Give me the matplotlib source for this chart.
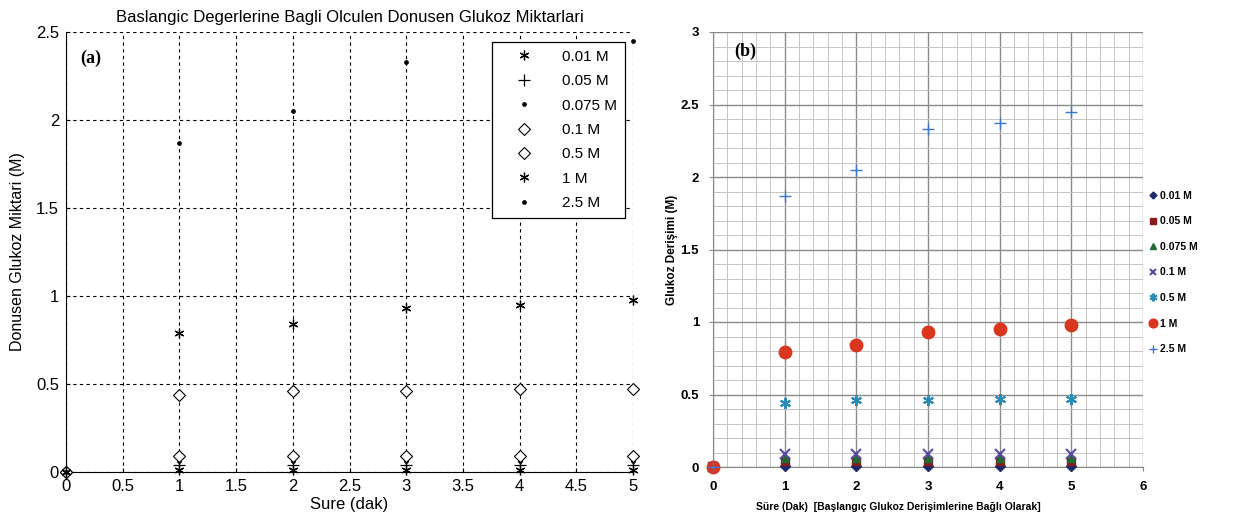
import matplotlib
matplotlib.use("Agg")
import matplotlib.pyplot as plt
import numpy as np
from matplotlib.ticker import MultipleLocator, FormatStrFormatter

# time (dak)
sure = [0, 1, 2, 3, 4, 5]

labels = ['0.01 M', '0.05 M', '0.075 M', '0.1 M', '0.5 M', '1 M', '2.5 M']
g001 = [0, 0.009, 0.009, 0.009, 0.009, 0.009]
g005 = [0, 0.04, 0.04, 0.04, 0.04, 0.04]
g0075 = [0, 0.06, 0.06, 0.06, 0.06, 0.06]
g01 = [0, 0.09, 0.09, 0.09, 0.09, 0.09]
g05 = [0, 0.44, 0.46, 0.46, 0.47, 0.47]
g1 = [0, 0.79, 0.84, 0.93, 0.95, 0.98]
g25 = [0, 1.87, 2.05, 2.33, 2.37, 2.45]
series = [g001, g005, g0075, g01, g05, g1, g25]

plt.rcParams['font.family'] = ['Liberation Sans', 'DejaVu Sans']

fig = plt.figure(figsize=(12.38, 5.24), dpi=100)

# ---------------- panel (a) ----------------
axa = fig.add_axes([66/1238, 1-472/524, 567/1238, 440/524])
ast = (6, 2, 0)
mk_a = [ast, '+', '.', 'D', 'D', ast, '.']
ms_a = [7, 8, 5, 6, 6, 7, 5]
for y, m, s, lab in zip(series, mk_a, ms_a, labels):
    if m == 'D':
        axa.plot(sure, y, linestyle='none', marker=m, ms=s, mfc='white',
                 mec='black', mew=0.8, label=lab, zorder=3, clip_on=False)
    else:
        axa.plot(sure, y, linestyle='none', marker=m, ms=s, color='black',
                 mew=0.9, label=lab, zorder=3, clip_on=False)
axa.set_xlim(0, 5)
axa.set_ylim(0, 2.5)
axa.xaxis.set_major_locator(MultipleLocator(0.5))
axa.yaxis.set_major_locator(MultipleLocator(0.5))
axa.xaxis.set_major_formatter(FormatStrFormatter('%g'))
axa.yaxis.set_major_formatter(FormatStrFormatter('%g'))
axa.grid(True, color='black', linestyle=(0, (3, 3)), linewidth=0.8)
axa.spines['top'].set_visible(False)
axa.spines['right'].set_visible(False)
axa.tick_params(direction='in', length=3, labelsize=12, pad=5)
axa.set_title('Baslangic Degerlerine Bagli Olculen Donusen Glukoz Miktarlari',
              fontsize=12, pad=7)
axa.set_xlabel('Sure (dak)', fontsize=12, labelpad=2)
axa.set_ylabel('Donusen Glukoz Miktari (M)', fontsize=11.5, labelpad=8)
axa.text(0.025, 0.94, '(a)', transform=axa.transAxes, fontsize=13,
         fontweight='bold', family='Liberation Serif', va='center')
lega = axa.legend(loc='upper right', bbox_to_anchor=(0.986, 0.977),
                  fontsize=11, frameon=True, fancybox=False, edgecolor='black',
                  framealpha=1, labelspacing=0.68, handlelength=3.2,
                  handletextpad=0.9, borderpad=0.5, borderaxespad=0)
lega.get_frame().set_linewidth(0.9)
lega.set_zorder(5)

# ---------------- panel (b) ----------------
axb = fig.add_axes([713/1238, 1-467/524, 430/1238, 435/524])
mk_b = ['D', 's', '^', 'x', (6, 2, 0), 'o', '+']
col_b = ['#1c2a6b', '#8a1c1c', '#1f6b32', '#5b4aa0', '#2b8db5', '#d8361d', '#3b78d4']
ms_b = [5, 6, 6, 7, 8, 9, 8]
for y, m, c, s, lab in zip(series, mk_b, col_b, ms_b, labels):
    axb.plot(sure, y, linestyle='none', marker=m, ms=s, color=c,
             mew=1.5 if m in ('x', (6, 2, 0)) else 1.0, label=lab, zorder=3,
             clip_on=False)
axb.set_xlim(0, 6)
axb.set_ylim(0, 3)
axb.xaxis.set_major_locator(MultipleLocator(1))
axb.xaxis.set_minor_locator(MultipleLocator(0.2))
axb.yaxis.set_major_locator(MultipleLocator(0.5))
axb.yaxis.set_minor_locator(MultipleLocator(0.1))
axb.yaxis.set_major_formatter(FormatStrFormatter('%g'))
axb.grid(True, which='major', color='#8a8a8a', linewidth=1.0)
axb.grid(True, which='minor', color='#c4c4c4', linewidth=0.7)
axb.set_axisbelow(True)
for sp in ['top', 'right']:
    axb.spines[sp].set_visible(False)
for sp in ['left', 'bottom']:
    axb.spines[sp].set_color('#888888')
axb.tick_params(which='both', length=3, color='#888888', labelsize=9.5)
axb.tick_params(axis='y', pad=7)
axb.tick_params(axis='x', pad=7)
axb.tick_params(which='minor', length=0)
for lab in axb.get_xticklabels() + axb.get_yticklabels():
    lab.set_fontweight('bold')
axb.set_ylabel('Glukoz Derişimi (M)', fontsize=8.5, fontweight='bold')
axb.yaxis.set_label_coords(-0.081, 0.5)
axb.set_xlabel('Süre (Dak)  [Başlangıç Glukoz Derişimlerine Bağlı Olarak]',
               fontsize=7.5, fontweight='bold')
axb.xaxis.set_label_coords(0.43, -0.08)
axb.text(0.05, 0.955, '(b)', transform=axb.transAxes, fontsize=13,
         fontweight='bold', family='Liberation Serif', va='center')
legb = axb.legend(loc='upper left', bbox_to_anchor=(1.005, 0.645),
                  frameon=False, fontsize=7.5, labelspacing=1.5,
                  handlelength=0.7, handletextpad=0.3, borderaxespad=0,
                  markerscale=0.7)
for t in legb.get_texts():
    t.set_fontweight('bold')

fig.savefig('out.png', dpi=100)
